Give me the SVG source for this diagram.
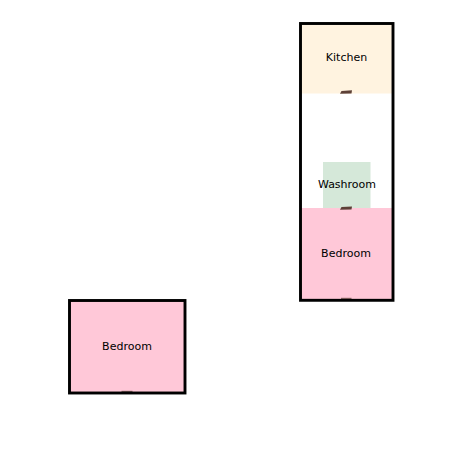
<svg xmlns="http://www.w3.org/2000/svg" width="462" height="462" viewBox="0 0 462 462">
<style>
.wall{fill:none;stroke:#000;stroke-width:2.9;stroke-linejoin:miter}
.door{fill:#5d4037;stroke:none}
text{font-family:"DejaVu Sans",sans-serif;font-size:11px;fill:#000;text-anchor:middle}
</style>
<rect width="462" height="462" fill="#fff"/>
<g id="kitchen"><rect x="301" y="24" width="92" height="69.500" fill="#fff3e0"/><text x="346.500" y="61">Kitchen</text></g>
<g id="washroom"><rect x="323" y="162" width="47.500" height="46" fill="#d5e8d9"/></g>
<g id="bedroom-upper"><rect x="301" y="208" width="92" height="92" fill="#ffc8d8"/><text x="346" y="257">Bedroom</text></g>
<g id="bedroom-lower"><rect x="70" y="300.500" width="115" height="92" fill="#ffc8d8"/><text x="127" y="350">Bedroom</text></g>
<g id="washroom-label"><text x="347" y="188">Washroom</text></g>
<g id="doors">
<path class="door" d="M340 93.800L341.500 91L352 90.300L351.500 93.500Z"/>
<path class="door" d="M340 209.800L341.500 207L352 206.400L351.500 209.600Z"/>
<path class="door" opacity=".7" d="M341 297.800H351.500V300H341Z"/>
<path class="door" opacity=".7" d="M121.500 390.800H132.500V393H121.500Z"/>
</g>
<g id="walls">
<rect class="wall" x="300.500" y="23.500" width="92.500" height="276.800"/>
<rect class="wall" x="69.500" y="300.500" width="115.500" height="92.500"/>
</g>
</svg>
